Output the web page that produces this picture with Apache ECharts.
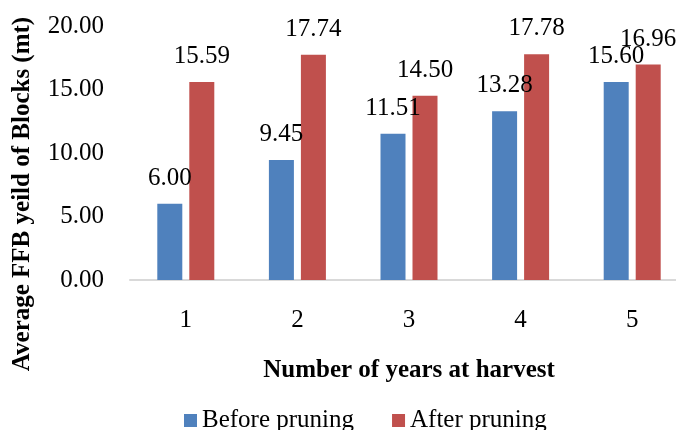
<!DOCTYPE html>
<html><head><meta charset="utf-8">
<script src="https://cdn.jsdelivr.net/npm/echarts@6/dist/echarts.min.js"></script>
<style>html,body{margin:0;padding:0;background:#fff}#c{width:676px;height:430px}</style>
</head><body><div id="c"></div>
<script>
var categories = ['1', '2', '3', '4', '5'];
var beforePruning = [6.00, 9.45, 11.51, 13.28, 15.60];
var afterPruning = [15.59, 17.74, 14.50, 17.78, 16.96];
var seriesNames = ['Before pruning', 'After pruning'];
var xTitle = 'Number of years at harvest';
var yTitle = 'Average FFB yeild of Blocks (mt)';

var FONT = '"Liberation Serif", "Times New Roman", serif';
var chart = echarts.init(document.getElementById('c'), null, {renderer: 'canvas'});
var lbl = {show: true, position: 'top', distance: 13, color: '#000', fontFamily: FONT, fontSize: 25,
  formatter: function (p) { return p.value.toFixed(2); }};
chart.setOption({
  animation: false,
  backgroundColor: '#fff',
  textStyle: {fontFamily: FONT},
  grid: {left: 130, width: 558, top: 26, bottom: 150, containLabel: false, outerBoundsMode: 'none'},
  legend: {
    data: seriesNames, left: 184, top: 408, padding: 0, itemWidth: 13, itemHeight: 13, itemGap: 38,
    icon: 'rect', textStyle: {fontFamily: FONT, fontSize: 25, color: '#000'}
  },
  xAxis: {
    type: 'category', data: categories,
    axisLine: {lineStyle: {color: '#d9d9d9', width: 2}},
    axisTick: {show: false},
    axisLabel: {color: '#000', fontFamily: FONT, fontSize: 25, margin: 28},
    name: xTitle, nameLocation: 'middle', nameGap: 78,
    nameTextStyle: {color: '#000', fontFamily: FONT, fontSize: 25, fontWeight: 'bold'}
  },
  yAxis: {
    type: 'value', min: 0, max: 20, interval: 5,
    axisLine: {show: false}, axisTick: {show: false}, splitLine: {show: false},
    axisLabel: {color: '#000', fontFamily: FONT, fontSize: 25, margin: 26,
      formatter: function (v) { return v.toFixed(2); }}
  },
  graphic: [{
    type: 'text', x: 23, y: 194, rotation: Math.PI / 2,
    style: {text: yTitle, fill: '#000', font: 'bold 25px ' + FONT, textAlign: 'center', textVerticalAlign: 'middle'}
  }],
  series: [
    {name: seriesNames[0], type: 'bar', data: beforePruning, barWidth: 25, barGap: '28%',
      itemStyle: {color: '#4F81BD'}, label: lbl},
    {name: seriesNames[1], type: 'bar', data: afterPruning, barWidth: 25, barGap: '28%',
      itemStyle: {color: '#C0504D'}, label: lbl}
  ]
});
</script></body></html>
